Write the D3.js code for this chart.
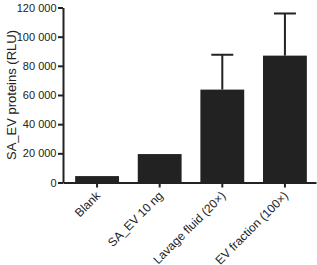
<!DOCTYPE html>
<html>
<head>
<meta charset="utf-8">
<script src="https://cdn.jsdelivr.net/npm/d3@7"></script>
<style>
  body { margin: 0; background: #fff; }
  text { font-family: "Liberation Sans", Arial, sans-serif; fill: #222; }
  .axis path, .axis line { stroke: #222; stroke-width: 2; }
</style>
</head>
<body>
<div id="chart"></div>
<script>
var categories = ['Blank', 'SA_EV 10 ng', 'Lavage fluid (20\u00d7)', 'EV fraction (100\u00d7)']
var means = [4400, 19500, 63700, 87000]
var errors = [0, 0, 23900, 28900]
var yTicks = [0, 20000, 40000, 60000, 80000, 100000, 120000]

var width = 317
var height = 265

var svg = d3.select('#chart').append('svg')
  .attr('width', width)
  .attr('height', height)

var x = d3.scaleBand()
  .domain(categories)
  .range([63, 316])
  .paddingInner(0.3)
  .paddingOuter(0.17)
  .align(0.57)

var y = d3.scaleLinear()
  .domain([0, 120000])
  .range([182.5, 7.5])

var fmt = function (d) { return d3.format(',')(d).replace(/,/g, ' ') }

// bars
svg.selectAll('.bar').data(categories).enter().append('rect')
  .attr('class', 'bar')
  .attr('x', function (d) { return x(d) })
  .attr('width', x.bandwidth())
  .attr('y', function (d, i) { return y(means[i]) })
  .attr('height', function (d, i) { return y(0) - y(means[i]) })
  .attr('fill', '#222')

// error bars (upper only)
var err = svg.selectAll('.err').data(categories.filter(function (d, i) { return errors[i] > 0 }))
  .enter().append('g').attr('class', 'err')
err.append('line')
  .attr('x1', function (d) { return x(d) + x.bandwidth() / 2 })
  .attr('x2', function (d) { return x(d) + x.bandwidth() / 2 })
  .attr('y1', function (d) { var i = categories.indexOf(d); return y(means[i]) })
  .attr('y2', function (d) { var i = categories.indexOf(d); return y(means[i] + errors[i]) })
  .attr('stroke', '#222').attr('stroke-width', 2)
err.append('line')
  .attr('x1', function (d) { return x(d) + x.bandwidth() / 2 - 11 })
  .attr('x2', function (d) { return x(d) + x.bandwidth() / 2 + 11 })
  .attr('y1', function (d) { var i = categories.indexOf(d); return y(means[i] + errors[i]) })
  .attr('y2', function (d) { var i = categories.indexOf(d); return y(means[i] + errors[i]) })
  .attr('stroke', '#222').attr('stroke-width', 2)

// y axis
var yAxis = svg.append('g')
  .attr('class', 'axis')
  .attr('transform', 'translate(63,0)')
  .call(d3.axisLeft(y).tickValues(yTicks).tickFormat(fmt).tickSize(5).tickSizeOuter(0).tickPadding(1.5))
yAxis.selectAll('text').style('font-size', '11px')

// x axis
var xAxis = svg.append('g')
  .attr('class', 'axis')
  .attr('transform', 'translate(0,' + y(0) + ')')
  .call(d3.axisBottom(x).tickSize(5).tickSizeOuter(0))
xAxis.selectAll('text')
  .style('font-size', '12px')
  .attr('text-anchor', 'end')
  .attr('dy', null)
  .attr('y', null)
  .attr('transform', 'translate(4,14) rotate(-45)')

// y label
svg.append('text')
  .attr('transform', 'translate(16,95) rotate(-90)')
  .attr('text-anchor', 'middle')
  .style('font-size', '13px')
  .text('SA_EV proteins (RLU)')
</script>
</body>
</html>
